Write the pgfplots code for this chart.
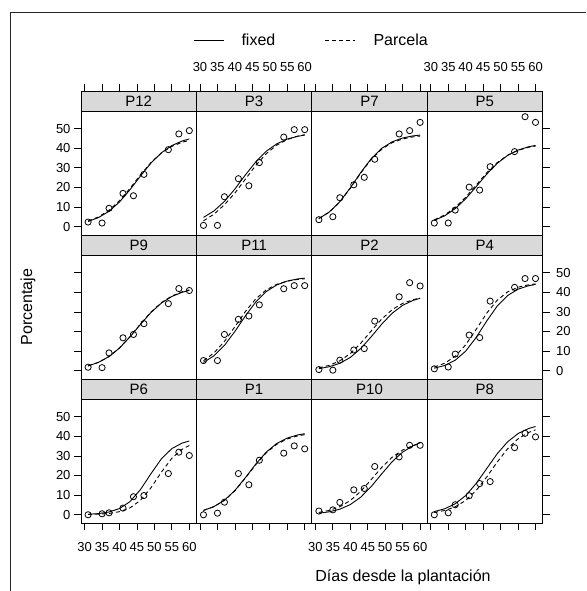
\documentclass[border=0pt]{standalone}
\usepackage{fontspec}
\setmainfont{Liberation Sans}
\usepackage{pgfplots}
\pgfplotsset{compat=1.18}
\definecolor{stripgray}{RGB}{217,217,217}
\pgfplotsset{
  base/.style={scale only axis, width=115.4pt, xmin=28.97, xmax=62.03,
    xtick=\empty, ytick=\empty, axis line style={line width=0.9pt},
    tick style={line width=0.8pt, black}, tick align=outside, major tick length=7pt,
    /pgf/number format/assume math mode=true,
    tick label style={font=\fontsize{13}{13}\selectfont},
    anchor=north west, clip=false},
  panel/.style={base, height=124pt, ymin=-4.2, ymax=59},
  strip/.style={base, height=20pt, ymin=0, ymax=1, axis background/.style={fill=stripgray}},
  fix/.style={black, line width=0.9pt, mark=none},
  par/.style={black, line width=0.9pt, dash pattern=on 4pt off 3pt, mark=none},
  pts/.style={only marks, mark=o, mark size=3.1pt, mark options={line width=0.8pt, solid}, black},
  topx/.style={xtick={30,35,...,60}, xtick pos=right, xticklabel pos=right,
    xticklabel style={yshift=9pt}},
  botx/.style={xtick={30,35,...,60}, xtick pos=left, xticklabel pos=left,
    xticklabel style={yshift=-9pt}},
  lefty/.style={ytick={0,10,...,50}, ytick pos=left, yticklabel pos=left},
  righty/.style={ytick={0,10,...,50}, ytick pos=right, yticklabel pos=right,
    yticklabel style={xshift=3pt}},
  nolabx/.style={xticklabels={}},
  nolaby/.style={yticklabels={}},
}
\newcommand{\Strip}[4]{%
  \begin{axis}[strip, at={(#1pt,#2pt)}, #4]
    \node at (axis cs:45.5,0.5) {\fontsize{15}{15}\selectfont #3};
  \end{axis}}
\begin{document}
\begin{tikzpicture}[x=1pt,y=1pt]
\useasboundingbox (0,0) rectangle (586,-591);
\draw[line width=0.8pt, black!85] (10,-591) -- (10,-12) -- (586,-12);
% legend
\draw[line width=0.9pt] (194,-40) -- (224,-40);
\node[anchor=west, font=\fontsize{16}{16}\selectfont] at (238,-40) {fixed};
\draw[line width=0.9pt, dash pattern=on 4pt off 3pt] (325,-40) -- (355,-40);
\node[anchor=west, font=\fontsize{16}{16}\selectfont] at (370,-40) {Parcela};
\node[rotate=90, font=\fontsize{16}{16}\selectfont] at (28,-307) {Porcentaje};
\node[font=\fontsize{16}{16}\selectfont] at (403,-577) {Días desde la plantación};

% ---------- Row 1 strips ----------
\Strip{81}{-91}{P12}{topx, nolabx}
\Strip{196.4}{-91}{P3}{topx}
\Strip{311.8}{-91}{P7}{topx, nolabx}
\Strip{427.2}{-91}{P5}{topx}
% ---------- Row 2 strips ----------
\Strip{81}{-235}{P9}{}
\Strip{196.4}{-235}{P11}{}
\Strip{311.8}{-235}{P2}{}
\Strip{427.2}{-235}{P4}{}
% ---------- Row 3 strips ----------
\Strip{81}{-379}{P6}{}
\Strip{196.4}{-379}{P1}{}
\Strip{311.8}{-379}{P10}{}
\Strip{427.2}{-379}{P8}{}

% ---------- Row 1 panels ----------
\begin{axis}[panel, at={(81pt,-111pt)}, lefty]
\addplot[pts] coordinates {(31,2.4)(35,1.9)(37,9.4)(41,17.0)(44,15.8)(47,26.7)(54,39.3)(57,47.3)(60,49.0)};
\addplot[fix] coordinates {(31,2.69)(34,4.69)(37,7.90)(40,12.64)(43,18.86)(46,25.84)(49,32.43)(52,37.70)(55,41.40)(58,43.75)(60,44.77)};
\addplot[par] coordinates {(31,2.91)(34,5.04)(37,8.39)(40,13.30)(43,19.58)(46,26.42)(49,32.70)(52,37.61)(55,40.98)(58,43.10)(60,44.01)};
\end{axis}
\begin{axis}[panel, at={(196.4pt,-111pt)}]
\addplot[pts] coordinates {(31,0.7)(35,0.7)(37,15.3)(41,24.5)(44,20.9)(47,32.7)(54,45.7)(57,49.5)(60,49.5)};
\addplot[fix] coordinates {(31,4.79)(34,8.06)(37,12.91)(40,19.26)(43,26.39)(46,33.12)(49,38.51)(52,42.28)(55,44.68)(58,46.12)(60,46.72)};
\addplot[par] coordinates {(31,3.04)(34,6.38)(37,11.23)(40,17.18)(43,24.25)(46,31.32)(49,37.27)(52,41.62)(55,44.46)(58,46.20)(60,46.93)};
\end{axis}
\begin{axis}[panel, at={(311.8pt,-111pt)}]
\addplot[pts] coordinates {(31,3.6)(35,5.1)(37,14.8)(41,21.4)(44,25.2)(47,34.4)(54,47.3)(57,49.0)(60,53.2)};
\addplot[fix] coordinates {(31,4.20)(34,7.54)(37,12.77)(40,19.83)(43,27.67)(46,34.73)(49,39.96)(52,43.30)(55,45.25)(58,46.32)(60,46.74)};
\addplot[par] coordinates {(31,4.15)(34,7.46)(37,12.64)(40,19.62)(43,27.38)(46,34.36)(49,39.54)(52,42.85)(55,44.77)(58,45.83)(60,46.24)};
\end{axis}
\begin{axis}[panel, at={(427.2pt,-111pt)}, righty, nolaby]
\addplot[pts] coordinates {(31,1.9)(35,1.9)(37,8.5)(41,20.2)(44,18.7)(47,30.6)(54,38.3)(57,56.1)(60,53.2)};
\addplot[fix] coordinates {(31,3.26)(34,5.59)(37,9.21)(40,14.27)(43,20.43)(46,26.77)(49,32.26)(52,36.36)(55,39.08)(58,40.76)(60,41.47)};
\addplot[par] coordinates {(31,3.54)(34,6.03)(37,9.84)(40,15.06)(43,21.25)(46,27.44)(49,32.66)(52,36.47)(55,38.96)(58,40.49)(60,41.13)};
\end{axis}

% ---------- Row 2 panels ----------
\begin{axis}[panel, at={(81pt,-255pt)}, lefty, nolaby]
\addplot[pts] coordinates {(31,1.8)(35,1.6)(37,9.1)(41,16.8)(44,18.5)(47,24.0)(54,34.2)(57,41.9)(60,40.9)};
\addplot[fix] coordinates {(31,2.46)(34,4.29)(37,7.22)(40,11.56)(43,17.26)(46,23.64)(49,29.67)(52,34.49)(55,37.87)(58,40.03)(60,40.96)};
\addplot[par] coordinates {(31,2.48)(34,4.32)(37,7.27)(40,11.64)(43,17.38)(46,23.81)(49,29.88)(52,34.74)(55,38.14)(58,40.31)(60,41.25)};
\end{axis}
\begin{axis}[panel, at={(196.4pt,-255pt)}]
\addplot[pts] coordinates {(31,5.2)(35,5.2)(37,18.5)(41,26.2)(44,27.9)(47,33.6)(54,41.8)(57,43.4)(60,43.4)};
\addplot[fix] coordinates {(31,4.24)(34,7.62)(37,12.91)(40,20.04)(43,27.96)(46,35.09)(49,40.38)(52,43.76)(55,45.72)(58,46.80)(60,47.23)};
\addplot[par] coordinates {(31,5.13)(34,9.07)(37,14.95)(40,22.43)(43,30.19)(46,36.69)(49,41.26)(52,44.08)(55,45.68)(58,46.55)(60,46.89)};
\end{axis}
\begin{axis}[panel, at={(311.8pt,-255pt)}]
\addplot[pts] coordinates {(31,0.6)(35,0.3)(37,5.4)(41,10.6)(44,11.3)(47,25.3)(54,37.7)(57,44.9)(60,43.2)};
\addplot[fix] coordinates {(31,1.08)(34,2.06)(37,3.81)(40,6.79)(43,11.36)(46,17.34)(49,23.76)(52,29.34)(55,33.36)(58,35.88)(60,36.94)};
\addplot[par] coordinates {(31,1.48)(34,2.77)(37,5.06)(40,8.76)(43,14.03)(46,20.32)(49,26.38)(52,31.15)(55,34.34)(58,36.25)(60,37.02)};
\end{axis}
\begin{axis}[panel, at={(427.2pt,-255pt)}, righty]
\addplot[pts] coordinates {(31,1.0)(35,1.9)(37,8.5)(41,18.2)(44,16.9)(47,35.5)(54,42.5)(57,47.0)(60,47.0)};
\addplot[fix] coordinates {(31,1.32)(34,2.70)(37,5.36)(40,10.02)(43,16.99)(46,25.30)(49,32.90)(52,38.34)(55,41.58)(58,43.32)(60,43.97)};
\addplot[par] coordinates {(31,1.89)(34,3.83)(37,7.40)(40,13.24)(43,21.10)(46,29.31)(49,35.92)(52,40.20)(55,42.60)(58,43.83)(60,44.28)};
\end{axis}

% ---------- Row 3 panels ----------
\begin{axis}[panel, at={(81pt,-399pt)}, lefty, botx]
\addplot[pts] coordinates {(31,0.0)(35,0.5)(37,1.0)(41,3.4)(44,9.2)(47,9.8)(54,21.0)(57,31.9)(60,30.2)};
\addplot[fix] coordinates {(31,0.26)(34,0.61)(37,1.41)(40,3.16)(43,6.71)(46,12.82)(49,20.89)(52,28.51)(55,33.74)(58,36.57)(60,37.59)};
\addplot[par] coordinates {(31,0.13)(34,0.29)(37,0.68)(40,1.57)(43,3.51)(46,7.35)(49,13.72)(52,21.70)(55,28.81)(58,33.47)(60,35.30)};
\end{axis}
\begin{axis}[panel, at={(196.4pt,-399pt)}, botx, nolabx]
\addplot[pts] coordinates {(31,0.0)(35,0.8)(37,6.4)(41,21.0)(44,15.3)(47,27.8)(54,31.4)(57,35.1)(60,33.6)};
\addplot[fix] coordinates {(31,2.24)(34,4.16)(37,7.40)(40,12.38)(43,18.90)(46,25.89)(49,31.97)(52,36.36)(55,39.10)(58,40.69)(60,41.32)};
\addplot[par] coordinates {(31,2.21)(34,4.11)(37,7.32)(40,12.23)(43,18.68)(46,25.59)(49,31.60)(52,35.93)(55,38.64)(58,40.21)(60,40.83)};
\end{axis}
\begin{axis}[panel, at={(311.8pt,-399pt)}, botx]
\addplot[pts] coordinates {(31,1.9)(35,2.5)(37,6.3)(41,12.7)(44,13.4)(47,24.6)(54,29.5)(57,35.4)(60,35.4)};
\addplot[fix] coordinates {(31,0.79)(34,1.51)(37,2.84)(40,5.19)(43,8.99)(46,14.40)(49,20.84)(52,27.07)(55,31.96)(58,35.23)(60,36.66)};
\addplot[par] coordinates {(31,1.18)(34,2.23)(37,4.10)(40,7.25)(43,11.96)(46,17.95)(49,24.15)(52,29.35)(55,33.01)(58,35.26)(60,36.20)};
\end{axis}
\begin{axis}[panel, at={(427.2pt,-399pt)}, botx, nolabx, righty, nolaby]
\addplot[pts] coordinates {(31,0.0)(35,1.0)(37,5.1)(41,9.7)(44,15.9)(47,16.9)(54,34.2)(57,41.5)(60,39.7)};
\addplot[fix] coordinates {(31,1.62)(34,3.06)(37,5.60)(40,9.81)(43,15.94)(46,23.50)(49,31.06)(52,37.19)(55,41.40)(58,43.95)(60,44.99)};
\addplot[par] coordinates {(31,1.15)(34,2.18)(37,4.07)(40,7.30)(43,12.37)(46,19.21)(49,26.80)(52,33.63)(55,38.70)(58,41.93)(60,43.30)};
\end{axis}
\end{tikzpicture}
\end{document}
